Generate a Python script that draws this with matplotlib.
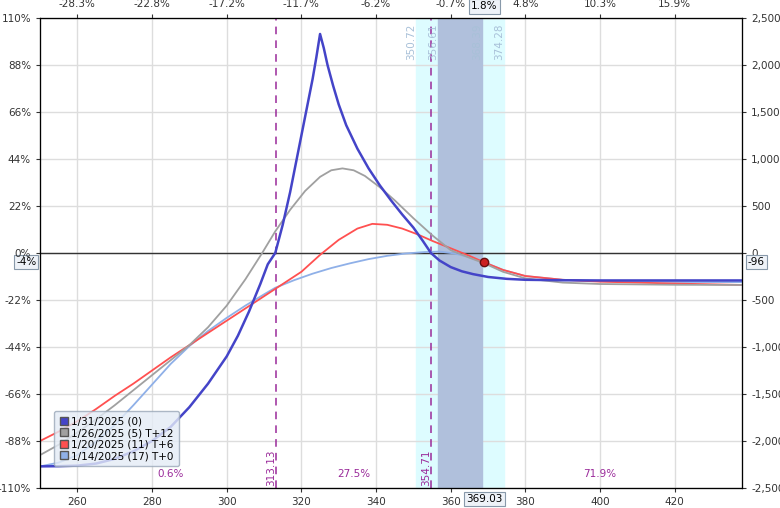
import matplotlib
matplotlib.use("Agg")
import matplotlib.pyplot as plt
import numpy as np

plt.rcParams['font.family'] = ['DejaVu Sans']
plt.rcParams['font.size'] = 7.5

exp_x = [250,255,260,265,270,275,280,285,290,295,300,303,306,309,311,313,315,317,319,321,323,324,325,326,327,328.5,330,332,335,338,341,344,347,350,352.5,354.7,357,360,363,366,370,375,380,390,400,420,438]
exp_y = [-2270,-2268,-2262,-2240,-2190,-2110,-2000,-1850,-1640,-1390,-1100,-880,-620,-330,-120,0,300,650,1050,1450,1850,2080,2330,2180,2000,1780,1580,1360,1110,900,720,560,410,270,130,0,-80,-150,-195,-225,-255,-275,-285,-290,-292,-292,-292]
t12_x = [250,255,260,265,270,275,280,285,290,295,300,305,309.5,313,317,321,325,328,331,334,337,341,345,350,355,360,365,369,374,380,390,400,420,438]
t12_y = [-2150,-2040,-1910,-1770,-1620,-1460,-1300,-1140,-980,-790,-560,-280,0,230,460,660,810,880,900,880,820,700,560,370,190,30,-50,-110,-200,-270,-315,-330,-338,-340]
t6_x = [250,255,260,265,270,275,280,285,290,295,300,305,310,315,320,325,330,335,339,343,347,351,355,360,365,369,374,380,390,400,420,438]
t6_y = [-2000,-1900,-1790,-1660,-1520,-1390,-1250,-1110,-980,-850,-720,-590,-460,-330,-200,-20,140,260,310,300,260,200,130,50,-30,-100,-180,-245,-285,-305,-325,-340]
t0_x = [250,255,260,265,270,275,280,285,290,295,300,305,310,313,318,323,328,333,338,343,348,353,357,361,365,369,374,380,390,400,420,438]
t0_y = [-2270,-2230,-2150,-2010,-1830,-1620,-1400,-1180,-990,-830,-690,-560,-440,-370,-290,-220,-160,-110,-65,-30,-5,10,15,-5,-45,-100,-180,-245,-285,-300,-308,-310]

legend_labels = ["1/31/2025 (0)", "1/26/2025 (5) T+12", "1/20/2025 (11) T+6", "1/14/2025 (17) T+0"]
colors = ["#4444c8", "#a0a0a0", "#ff5050", "#8fb0e8"]

xticks = [260,280,300,320,340,360,380,400,420]
top_labels = ["-28.3%","-22.8%","-17.2%","-11.7%","-6.2%","-0.7%","4.8%","10.3%","15.9%"]
yticks_r = [2500,2000,1500,1000,500,0,-500,-1000,-1500,-2000,-2500]
yticks_l = ["110%","88%","66%","44%","22%","0%","-22%","-44%","-66%","-88%","-110%"]

price = 369.03
pnl_now = -96
be = [313.13, 354.71]
sd1 = [356.61, 368.39]
sd2 = [350.72, 374.28]
probs = [("0.6%", 285), ("27.5%", 334), ("71.9%", 400)]

fig = plt.figure(figsize=(7.8, 5.08), dpi=100)
ax = fig.add_axes([40/780, 20/508, 702/780, 470/508])
axl = ax.twinx()
axt = ax.twiny()
ax.set_xlim(250, 438)
ax.set_ylim(-2500, 2500)
ax.set_xticks(xticks)
ax.set_yticks(yticks_r)
ax.grid(True, color="#dddddd", lw=1)
ax.set_axisbelow(True)

ax.axvspan(sd2[0], sd2[1], color="#ddfcff", zorder=0.5)
ax.axvspan(sd1[0], sd1[1], color="#b0c0dc", zorder=0.6)
for v, lab in zip(sd2 + sd1, ["350.72", "374.28", "356.61", "368.39"]):
    ax.text(v - 1.3, 2440, lab, rotation=90, ha="center", va="top", color="#a8c0d8", fontsize=7.5)
for b in be:
    ax.axvline(b, color="#9a2a9a", ls=(0, (5, 4)), lw=1.1, zorder=2)
    ax.text(b - 1.3, -2480, f"{b:.2f}", rotation=90, ha="center", va="bottom", color="#9a2a9a", fontsize=7.5)
ax.axhline(0, color="#333333", lw=1, zorder=2)

ax.plot(t0_x, t0_y, color=colors[3], lw=1.3, zorder=3)
ax.plot(t6_x, t6_y, color=colors[2], lw=1.3, zorder=3)
ax.plot(t12_x, t12_y, color=colors[1], lw=1.3, zorder=3)
ax.plot(exp_x, exp_y, color=colors[0], lw=1.8, zorder=4)
ax.plot([price], [pnl_now], 'o', ms=6, mfc="#cc2222", mec="#661111", zorder=5)

for t, x in probs:
    ax.text(x, -2350, t, color="#9a2a9a", ha="center", va="center", fontsize=7.5)

ax.yaxis.set_ticks_position("right")
ax.yaxis.set_label_position("right")
ax.set_yticklabels([f"{v:,}" for v in yticks_r])
axl.set_ylim(-2500, 2500)
axl.set_yticks(yticks_r)
axl.yaxis.set_ticks_position("left")
axl.yaxis.set_label_position("left")
axl.set_yticklabels(yticks_l)
axt.set_xlim(250, 438)
axt.set_xticks(xticks)
axt.set_xticklabels(top_labels)
for a in (ax, axl, axt):
    a.tick_params(labelsize=7.5, colors="#333333", length=3)

bbox = dict(boxstyle="square,pad=0.2", fc="#eef2f8", ec="#8899aa", lw=0.8)
ax.text(price, -2500 - 60, "369.03", ha="center", va="top", bbox=bbox, fontsize=7.5, clip_on=False)
ax.text(price, 2500 + 70, "1.8%", ha="center", va="bottom", bbox=bbox, fontsize=7.5, clip_on=False)
ax.text(249, pnl_now, "-4%", ha="right", va="center", bbox=bbox, fontsize=7.5, clip_on=False)
ax.text(439.5, pnl_now, "-96", ha="left", va="center", bbox=bbox, fontsize=7.5, clip_on=False, zorder=6)

handles = [plt.Line2D([], [], ls="none", marker="s", ms=6, mfc=c, mec="#555555") for c in colors]
leg = ax.legend(handles, legend_labels, loc="lower left", bbox_to_anchor=(0.012, 0.035),
                fontsize=7.5, handletextpad=0.2, labelspacing=0.15, borderpad=0.5,
                framealpha=0.8, fancybox=True, handlelength=1.0)
leg.get_frame().set_facecolor("#e4ecf6")
leg.get_frame().set_edgecolor("#9aa8b8")
leg.set_zorder(6)

fig.savefig("out.png", dpi=100)
